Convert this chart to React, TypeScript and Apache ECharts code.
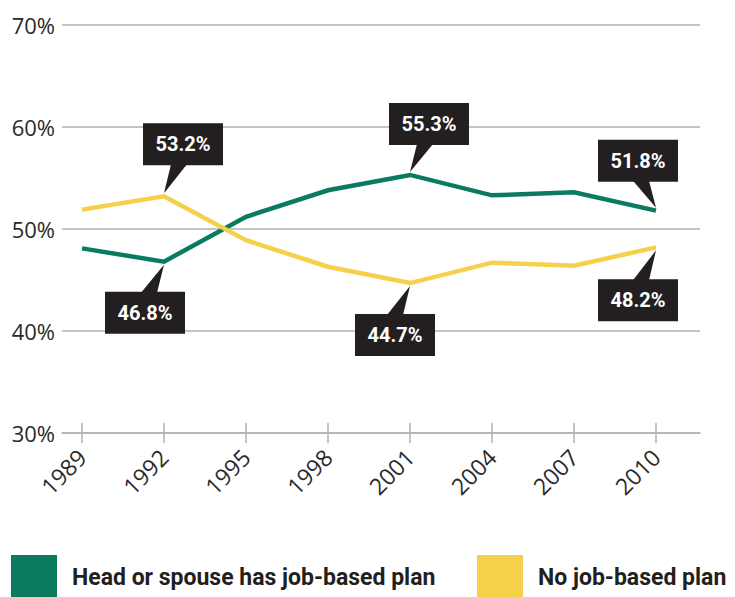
import React, { useEffect, useRef } from "react";
import * as echarts from "echarts";

const years = [1989, 1992, 1995, 1998, 2001, 2004, 2007, 2010];
const jobPlan = [48.1, 46.8, 51.2, 53.8, 55.3, 53.3, 53.6, 51.8];
const noJobPlan = [51.9, 53.2, 48.9, 46.3, 44.7, 46.7, 46.4, 48.2];
const seriesNames = ["Head or spouse has job-based plan", "No job-based plan"];
const seriesColors = ["#0b7b60", "#f5d04b"];

// callouts: which series / year index gets a value box, and where the box sits
const callouts = [
  { s: 1, i: 1, dx: 19, dy: -52 },
  { s: 0, i: 1, dx: -19, dy: 51 },
  { s: 0, i: 4, dx: 19, dy: -51 },
  { s: 0, i: 7, dx: -18, dy: -50 },
  { s: 1, i: 7, dx: -18, dy: 53 },
  { s: 1, i: 4, dx: -15, dy: 52 },
];

const allData = [jobPlan, noJobPlan];
const xMin = 1989 - (20 / 82) * 3;
const xMax = 2010 + (44 / 82) * 3;

export default function App() {
  const ref = useRef<HTMLDivElement>(null);
  useEffect(() => {
    if (!ref.current) return;
    const chart = echarts.init(ref.current, null, { renderer: "svg" });
    const axisGrey = "#b0b0b6";
    const labelFont = { fontFamily: "Open Sans", fontSize: 22, fontWeight: "normal", color: "#2a2a2a" };
    const legendBase = {
      orient: "horizontal",
      top: 555,
      padding: 0,
      itemWidth: 46,
      itemHeight: 44,
      icon: "rect",
      selectedMode: false,
      textStyle: {
        fontFamily: "Roboto",
        fontWeight: "bold",
        fontSize: 23,
        color: "#231f20",
        padding: [5, 0, 0, 10],
      },
    };
    chart.setOption({
      animation: false,
      grid: { left: 62, right: 35, top: 25, bottom: 164, containLabel: false },
      xAxis: [
        {
          type: "value",
          min: xMin,
          max: xMax,
          axisLine: { show: true, lineStyle: { color: axisGrey, width: 1.5 } },
          axisTick: { show: true, length: 10, customValues: years, lineStyle: { color: axisGrey, width: 1.5 } },
          axisLabel: {
            show: true,
            customValues: years,
            rotate: 45,
            margin: 20,
            ...labelFont,
            fontSize: 23,
            formatter: (v: number) => String(v),
          },
          splitLine: { show: false },
        },
        {
          type: "value",
          min: xMin,
          max: xMax,
          position: "bottom",
          axisLine: { show: false },
          axisTick: { show: true, inside: true, length: 10, customValues: years, lineStyle: { color: axisGrey, width: 1.5 } },
          axisLabel: { show: false },
          splitLine: { show: false },
        },
      ],
      yAxis: {
        type: "value",
        min: 30,
        max: 70,
        interval: 10,
        axisLine: { show: false },
        axisTick: { show: false },
        axisLabel: { ...labelFont, margin: 7, formatter: "{value}%" },
        splitLine: { show: true, lineStyle: { color: axisGrey, width: 1.5 } },
      },
      legend: [
        { ...legendBase, left: 11, data: [seriesNames[0]] },
        { ...legendBase, left: 477, data: [seriesNames[1]] },
      ],
      series: allData.map((d, k) => ({
        name: seriesNames[k],
        type: "line",
        xAxisIndex: 0,
        yAxisIndex: 0,
        data: years.map((y, i) => [y, d[i]]),
        symbol: "none",
        lineStyle: { color: seriesColors[k], width: 4.5, join: "miter" },
        itemStyle: { color: seriesColors[k] },
        z: 3,
      })),
    });

    const boxW = 80;
    const boxH = 42;
    const graphics: any[] = [];
    callouts.forEach((c) => {
      const p = chart.convertToPixel({ seriesIndex: c.s }, [years[c.i], allData[c.s][c.i]]) as number[];
      const [px, py] = p;
      const cx = px + c.dx;
      const cy = py + c.dy;
      const above = c.dy < 0;
      const edgeY = above ? cy + boxH / 2 - 1 : cy - boxH / 2 + 1;
      const baseCx = px + Math.sign(c.dx) * 15;
      const tipY = above ? py - 3 : py + 3;
      graphics.push({
        type: "polygon",
        z: 10,
        shape: { points: [[baseCx - 8, edgeY], [baseCx + 8, edgeY], [px, tipY]] },
        style: { fill: "#231f20" },
      });
      graphics.push({
        type: "rect",
        z: 10,
        shape: { x: cx - boxW / 2, y: cy - boxH / 2, width: boxW, height: boxH },
        style: { fill: "#231f20" },
      });
      graphics.push({
        type: "text",
        z: 11,
        x: cx,
        y: cy,
        style: {
          text: allData[c.s][c.i].toFixed(1) + "%",
          fill: "#ffffff",
          font: "bold 20px Roboto",
          textAlign: "center",
          textVerticalAlign: "middle",
        },
      });
    });
    chart.setOption({ graphic: graphics });

    return () => chart.dispose();
  }, []);
  return (
    <div
      ref={ref}
      style={{ position: "absolute", left: 0, top: 0, width: 735, height: 597 }}
    />
  );
}
